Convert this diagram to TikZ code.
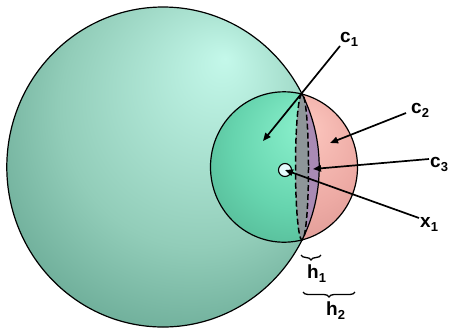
\documentclass[tikz,border=0pt]{standalone}
\usepackage{fontspec}
\setmainfont{Liberation Sans}
\usetikzlibrary{arrows.meta,decorations.pathreplacing}
\definecolor{bbA}{HTML}{C4F8EA}
\definecolor{bbB}{HTML}{92CDB9}
\definecolor{bbC}{HTML}{468B76}
\definecolor{gbA}{HTML}{8CF2CE}
\definecolor{gbB}{HTML}{66D4AE}
\definecolor{gbC}{HTML}{48A585}
\definecolor{pbA}{HTML}{FCC6BE}
\definecolor{pbB}{HTML}{EDAAA4}
\definecolor{pbC}{HTML}{CF8A86}
\definecolor{lensgrey}{HTML}{8E9699}
\definecolor{lenspurple}{HTML}{A98AB4}
\definecolor{dotfill}{HTML}{E6FAFC}
\pgfdeclareradialshading{bigball}{\pgfqpoint{10bp}{17bp}}{color(0bp)=(bbA); color(22bp)=(bbB); color(45bp)=(bbC); color(50bp)=(bbC)}
\pgfdeclareradialshading{greenball}{\pgfqpoint{8bp}{14bp}}{color(0bp)=(gbA); color(22bp)=(gbB); color(45bp)=(gbC); color(50bp)=(gbC)}
\pgfdeclareradialshading{pinkball}{\pgfqpoint{8bp}{14bp}}{color(0bp)=(pbA); color(22bp)=(pbB); color(45bp)=(pbC); color(50bp)=(pbC)}
\newcommand\lbl[2]{#1\raisebox{-4pt}{\fontsize{13}{14}\selectfont #2}}
\begin{document}
\begin{tikzpicture}[x=1pt,y=-1pt,
  outl/.style={draw=black,line width=1.2pt},
  dashline/.style={draw=black,line width=1.5pt,dash pattern=on 6pt off 3pt},
  arr/.style={line width=1.7pt,-{Triangle[length=8pt,width=6.5pt]}},
  lab/.style={anchor=base west,inner sep=0pt,font=\fontsize{19}{21}\selectfont\bfseries},
  bracestyle/.style={line width=1.3pt,decorate,decoration={brace,mirror,amplitude=5pt}}]
\useasboundingbox (0,0) rectangle (454,330);
% spheres
\shade[shading=bigball] (163,167) ellipse [x radius=156.2, y radius=160];
\shade[shading=pinkball] (284,167) ellipse [x radius=73.5, y radius=75.2];
\begin{scope}
  \clip (163,167) ellipse [x radius=156.2, y radius=160];
  \shade[shading=greenball] (284,167) ellipse [x radius=73.5, y radius=75.2];
  \clip (284,167) ellipse [x radius=73.5, y radius=75.2];
  \fill[lenspurple] (302,94) arc[start angle=-90, end angle=90, x radius=6.5, y radius=73] -- (345,240) -- (345,94) -- cycle;
\end{scope}
\fill[lensgrey] (302,167) ellipse [x radius=6.5, y radius=73];
% outlines
\draw[outl] (163,167) ellipse [x radius=156.2, y radius=160];
\draw[outl] (284,167) ellipse [x radius=73.5, y radius=75.2];
\draw[dashline] (302,167) ellipse [x radius=6.5, y radius=73];
\node[circle,draw=black,line width=1.1pt,fill=dotfill,minimum size=13pt,inner sep=0pt] (dot) at (285,170) {};
% labels
\node[lab] (c1) at (340,42) {\lbl{c}{1}};
\node[lab] (c2) at (411,113) {\lbl{c}{2}};
\node[lab] (c3) at (430,167) {\lbl{c}{3}};
\node[lab] (x1) at (420,227) {\lbl{x}{1}};
\node[lab] (h1) at (307,278) {\lbl{h}{1}};
\node[lab] (h2) at (326,315) {\lbl{h}{2}};
% arrow end points
\coordinate (s1) at (340,46);
\coordinate (t1) at (263,141);
\coordinate (s2) at (406,113);
\coordinate (t2) at (330,143);
\coordinate (s3) at (429,159);
\coordinate (t3) at (313,169);
\coordinate (s4) at (419,218);
\draw[arr] (s1) -- (t1);
\draw[arr] (s2) -- (t2);
\draw[arr] (s3) -- (t3);
\draw[arr] (s4) -- (dot.center);
% braces
\coordinate (b1l) at (301,255);
\coordinate (b1r) at (321,255);
\coordinate (b2l) at (303,292);
\coordinate (b2r) at (355,292);
\draw[bracestyle] (b1l) -- (b1r);
\draw[bracestyle] (b2l) -- (b2r);
\end{tikzpicture}
\end{document}
